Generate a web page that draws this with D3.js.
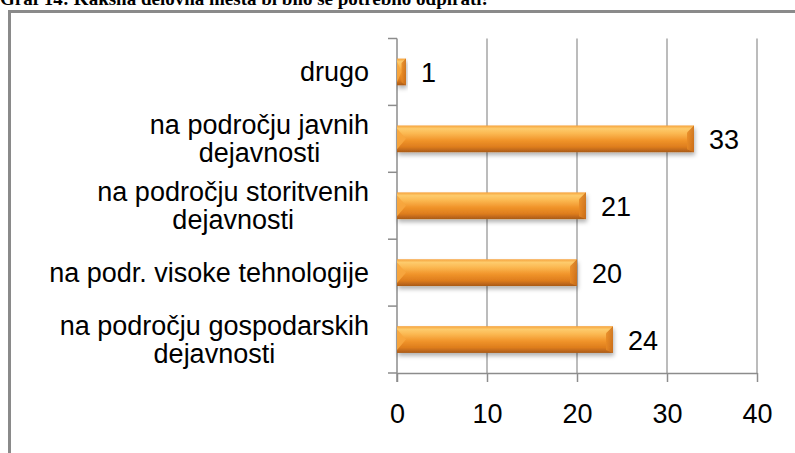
<!DOCTYPE html>
<html>
<head>
<meta charset="utf-8">
<script src="https://cdn.jsdelivr.net/npm/d3@7"></script>
<style>
  html, body { margin: 0; padding: 0; background: #fff; overflow: hidden; }
  svg { display: block; }
  .cat-label, .val-label, .x-axis text { font-family: 'Liberation Sans', Arial, sans-serif; font-size: 27px; fill: #000; }
</style>
</head>
<body>
<svg class="chart" width="795" height="453"></svg>
<script>
// categories top to bottom, as printed on the axis
const categories = [
  'drugo',
  'na področju javnih dejavnosti',
  'na področju storitvenih dejavnosti',
  'na podr. visoke tehnologije',
  'na področju gospodarskih dejavnosti',
];
const categoryLines = [
  ['drugo'],
  ['na področju javnih', 'dejavnosti'],
  ['na področju storitvenih', 'dejavnosti'],
  ['na podr. visoke tehnologije'],
  ['na področju gospodarskih', 'dejavnosti'],
];
const values = [1, 33, 21, 20, 24];
const xTicks = [0, 10, 20, 30, 40];
const title = 'Graf 14: Kakšna delovna mesta bi bilo še potrebno odpirati!';

const svg = d3.select('.chart');
const plotLeft = 397;
const plotRight = 757;
const plotTop = 38.5;
const plotBottom = 373;

const x = d3.scaleLinear().domain([0, 40]).range([plotLeft, plotRight]);
const y = d3.scaleBand()
  .domain(categories)
  .range([plotTop, plotBottom])
  .paddingInner(0.6)
  .paddingOuter(0.3);

// gradients and shadow
const defs = svg.append('defs');
const grad = defs.append('linearGradient')
  .attr('id', 'barGrad')
  .attr('x1', 0).attr('y1', 0).attr('x2', 0).attr('y2', 1);
[
  [0, '#f6a23c'],
  [0.12, '#fdcb6c'],
  [0.3, '#fbb851'],
  [0.55, '#f1952b'],
  [0.8, '#de7d1d'],
  [1, '#a95a18'],
].forEach(([o, c]) => grad.append('stop').attr('offset', o).attr('stop-color', c));

const bevelR = defs.append('linearGradient')
  .attr('id', 'bevelR')
  .attr('x1', 0).attr('y1', 0).attr('x2', 1).attr('y2', 0);
bevelR.append('stop').attr('offset', 0).attr('stop-color', '#e88a25');
bevelR.append('stop').attr('offset', 1).attr('stop-color', '#c96d1a');

const shadow = defs.append('filter')
  .attr('id', 'shadow')
  .attr('x', '-10%').attr('y', '-30%').attr('width', '130%').attr('height', '190%');
shadow.append('feDropShadow')
  .attr('dx', 1).attr('dy', 3)
  .attr('stdDeviation', 2.2)
  .attr('flood-color', '#000')
  .attr('flood-opacity', 0.3);

// outer frame
svg.append('rect')
  .attr('x', 9.5).attr('y', 11.5)
  .attr('width', 900).attr('height', 600)
  .attr('fill', '#fff')
  .attr('stroke', '#8a8a8a')
  .attr('stroke-width', 3);

// title, clipped at top of picture like the reference
svg.append('text')
  .attr('x', 0).attr('y', 5)
  .attr('font-family', "'Liberation Serif', 'Times New Roman', serif")
  .attr('font-weight', 'bold')
  .attr('font-size', 19)
  .attr('fill', '#000')
  .text(title);

// vertical gridlines
svg.append('g')
  .attr('class', 'grid')
  .selectAll('line')
  .data(xTicks.slice(1))
  .enter()
  .append('line')
  .attr('x1', d => x(d)).attr('x2', d => x(d))
  .attr('y1', plotTop).attr('y2', plotBottom)
  .attr('stroke', '#a6a6a6')
  .attr('stroke-width', 1.5);

// x axis
const xAxis = svg.append('g')
  .attr('class', 'x-axis')
  .attr('transform', `translate(0, ${plotBottom})`)
  .call(d3.axisBottom(x).tickValues(xTicks).tickSize(9).tickSizeOuter(0).tickPadding(22));
xAxis.select('.domain').attr('stroke', '#8c8c8c').attr('stroke-width', 1.5);
xAxis.selectAll('.tick line').attr('stroke', '#8c8c8c').attr('stroke-width', 1.5);
xAxis.selectAll('text').attr('fill', '#000').attr('font-size', 27);

// y axis: line with ticks at band boundaries
const step = y.step();
svg.append('line')
  .attr('x1', plotLeft).attr('x2', plotLeft)
  .attr('y1', plotTop).attr('y2', plotBottom + 9)
  .attr('stroke', '#8c8c8c')
  .attr('stroke-width', 1.5);
svg.append('g')
  .attr('class', 'y-ticks')
  .selectAll('line')
  .data(d3.range(categories.length + 1))
  .enter()
  .append('line')
  .attr('x1', plotLeft - 9).attr('x2', plotLeft)
  .attr('y1', i => plotTop + i * step)
  .attr('y2', i => plotTop + i * step)
  .attr('stroke', '#8c8c8c')
  .attr('stroke-width', 1.5);

// category labels (multi-line, centered within a right-aligned block)
const lineGap = 28;
const labels = svg.append('g').attr('class', 'cat-labels');
categories.forEach((cat, i) => {
  const lines = categoryLines[i];
  const cy = y(cat) + y.bandwidth() / 2;
  const t = labels.append('text')
    .attr('class', 'cat-label')
    .attr('text-anchor', 'middle');
  lines.forEach((ln, j) => {
    t.append('tspan')
      .attr('y', cy + 9 + (j - (lines.length - 1) / 2) * lineGap)
      .text(ln);
  });
  // center lines over the widest one, right edge at 369
  const widths = t.selectAll('tspan').nodes().map(n => n.getComputedTextLength());
  const w = d3.max(widths);
  t.selectAll('tspan').attr('x', 369 - w / 2);
});

// bars
const bars = svg.append('g')
  .attr('class', 'bars')
  .selectAll('g')
  .data(categories.map((c, i) => ({ cat: c, value: values[i] })))
  .enter()
  .append('g')
  .attr('filter', 'url(#shadow)');

bars.append('rect')
  .attr('x', x(0))
  .attr('y', d => y(d.cat))
  .attr('width', d => x(d.value) - x(0))
  .attr('height', y.bandwidth())
  .attr('fill', 'url(#barGrad)');

// bevel on right end
bars.append('path')
  .attr('d', d => {
    const x1 = x(d.value);
    const y0 = y(d.cat);
    const h = y.bandwidth();
    const b = Math.min(7, (x1 - x(0)) / 2);
    return `M${x1 - b},${y0 + b} L${x1},${y0} L${x1},${y0 + h} L${x1 - b},${y0 + h - 3} Z`;
  })
  .attr('fill', 'url(#bevelR)')
  .attr('opacity', 0.85);

// bevel on left end
bars.append('path')
  .attr('d', d => {
    const x0 = x(0);
    const y0 = y(d.cat);
    const h = y.bandwidth();
    const b = Math.min(9, (x(d.value) - x0) / 2);
    return `M${x0},${y0 + 3} L${x0 + b},${y0 + h / 2} L${x0},${y0 + h - 3} Z`;
  })
  .attr('fill', '#f7a63e')
  .attr('opacity', 0.9);

// value labels
svg.append('g')
  .attr('class', 'values')
  .selectAll('text')
  .data(categories.map((c, i) => ({ cat: c, value: values[i] })))
  .enter()
  .append('text')
  .attr('class', 'val-label')
  .attr('x', d => x(d.value) + 15)
  .attr('y', d => y(d.cat) + y.bandwidth() / 2 + 10)
  .text(d => d.value);
</script>
</body>
</html>
